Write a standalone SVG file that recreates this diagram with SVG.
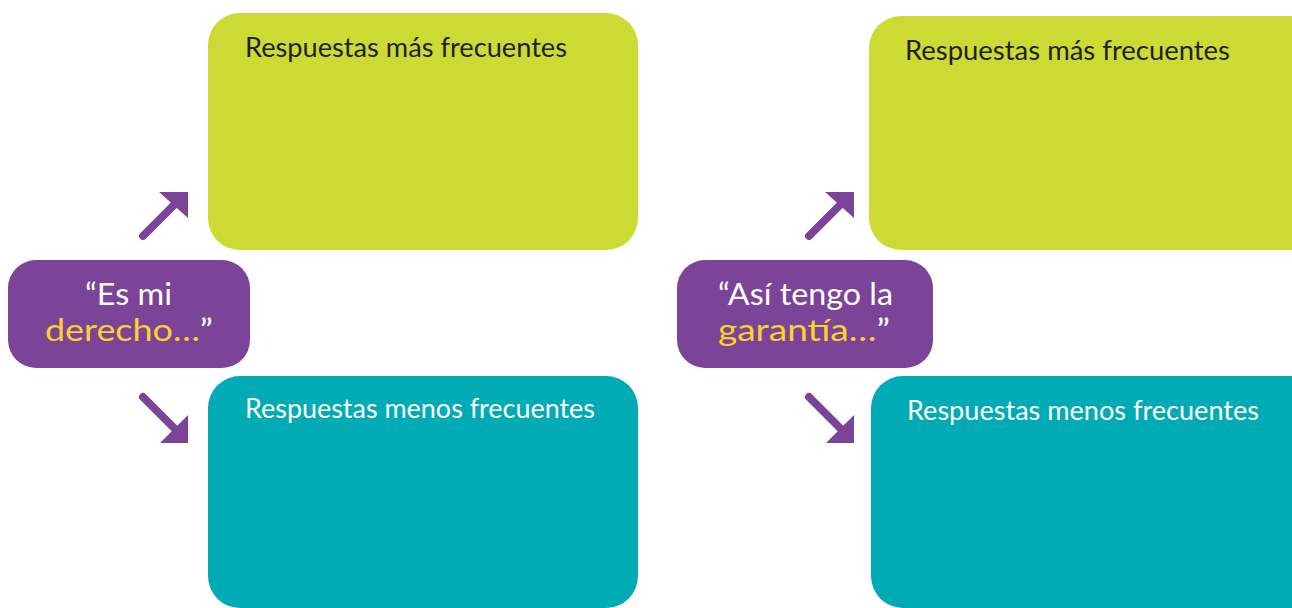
<svg xmlns="http://www.w3.org/2000/svg" width="1292" height="608" viewBox="0 0 1292 608">
<style>
.g{fill:#cbdb34}
.t{fill:#00abb6}
.p{fill:#7c4499}
.lbl{font-family:"Lato","Open Sans",sans-serif;font-size:26px}
.dk{fill:#231f20}
.wh{fill:#ffffff}
.q{font-family:"Lato","Open Sans",sans-serif;font-size:31px;fill:#ffffff}
.y{fill:#f9d22b}
.arr{stroke:#7c4499;stroke-width:8;stroke-linecap:round;fill:none}
.ah{fill:#7c4499}
</style>
<g id="left-top">
<rect class="g" x="208" y="13" width="430" height="237" rx="32"/>
<text class="lbl dk" x="245" y="57" textLength="322" lengthAdjust="spacingAndGlyphs">Respuestas más frecuentes</text>
</g>
<g id="left-bottom">
<rect class="t" x="208" y="376" width="430" height="232" rx="32"/>
<text class="lbl wh" x="245" y="418" textLength="350" lengthAdjust="spacingAndGlyphs">Respuestas menos frecuentes</text>
</g>
<g id="left-center">
<rect class="p" x="8" y="260" width="242" height="108" rx="28"/>
<text class="q" x="85" y="305" textLength="87" lengthAdjust="spacingAndGlyphs">“Es mi</text>
<text class="q" x="45" y="341" textLength="168" lengthAdjust="spacingAndGlyphs"><tspan class="y">derecho…</tspan>”</text>
</g>
<g id="right-top">
<rect class="g" x="869" y="16" width="460" height="234" rx="32"/>
<text class="lbl dk" x="905" y="60" textLength="325" lengthAdjust="spacingAndGlyphs">Respuestas más frecuentes</text>
</g>
<g id="right-bottom">
<rect class="t" x="871" y="376" width="460" height="232" rx="32"/>
<text class="lbl wh" x="907" y="420" textLength="352" lengthAdjust="spacingAndGlyphs">Respuestas menos frecuentes</text>
</g>
<g id="right-center">
<rect class="p" x="677" y="260" width="256" height="108" rx="28"/>
<text class="q" x="718" y="305" textLength="175" lengthAdjust="spacingAndGlyphs">“Así tengo la</text>
<text class="q" x="718" y="341" textLength="172" lengthAdjust="spacingAndGlyphs"><tspan class="y">garantía…</tspan>”</text>
</g>
<g id="connectors">
<line class="arr" x1="143" y1="236" x2="176" y2="203"/>
<polygon class="ah" points="159,192 188,192 188,218"/>
<line class="arr" x1="143" y1="397" x2="176" y2="430"/>
<polygon class="ah" points="188,415 188,443 160,443"/>
<line class="arr" x1="809" y1="236" x2="842" y2="203"/>
<polygon class="ah" points="825,192 854,192 854,218"/>
<line class="arr" x1="809" y1="397" x2="842" y2="430"/>
<polygon class="ah" points="854,415 854,443 826,443"/>
</g>
</svg>
